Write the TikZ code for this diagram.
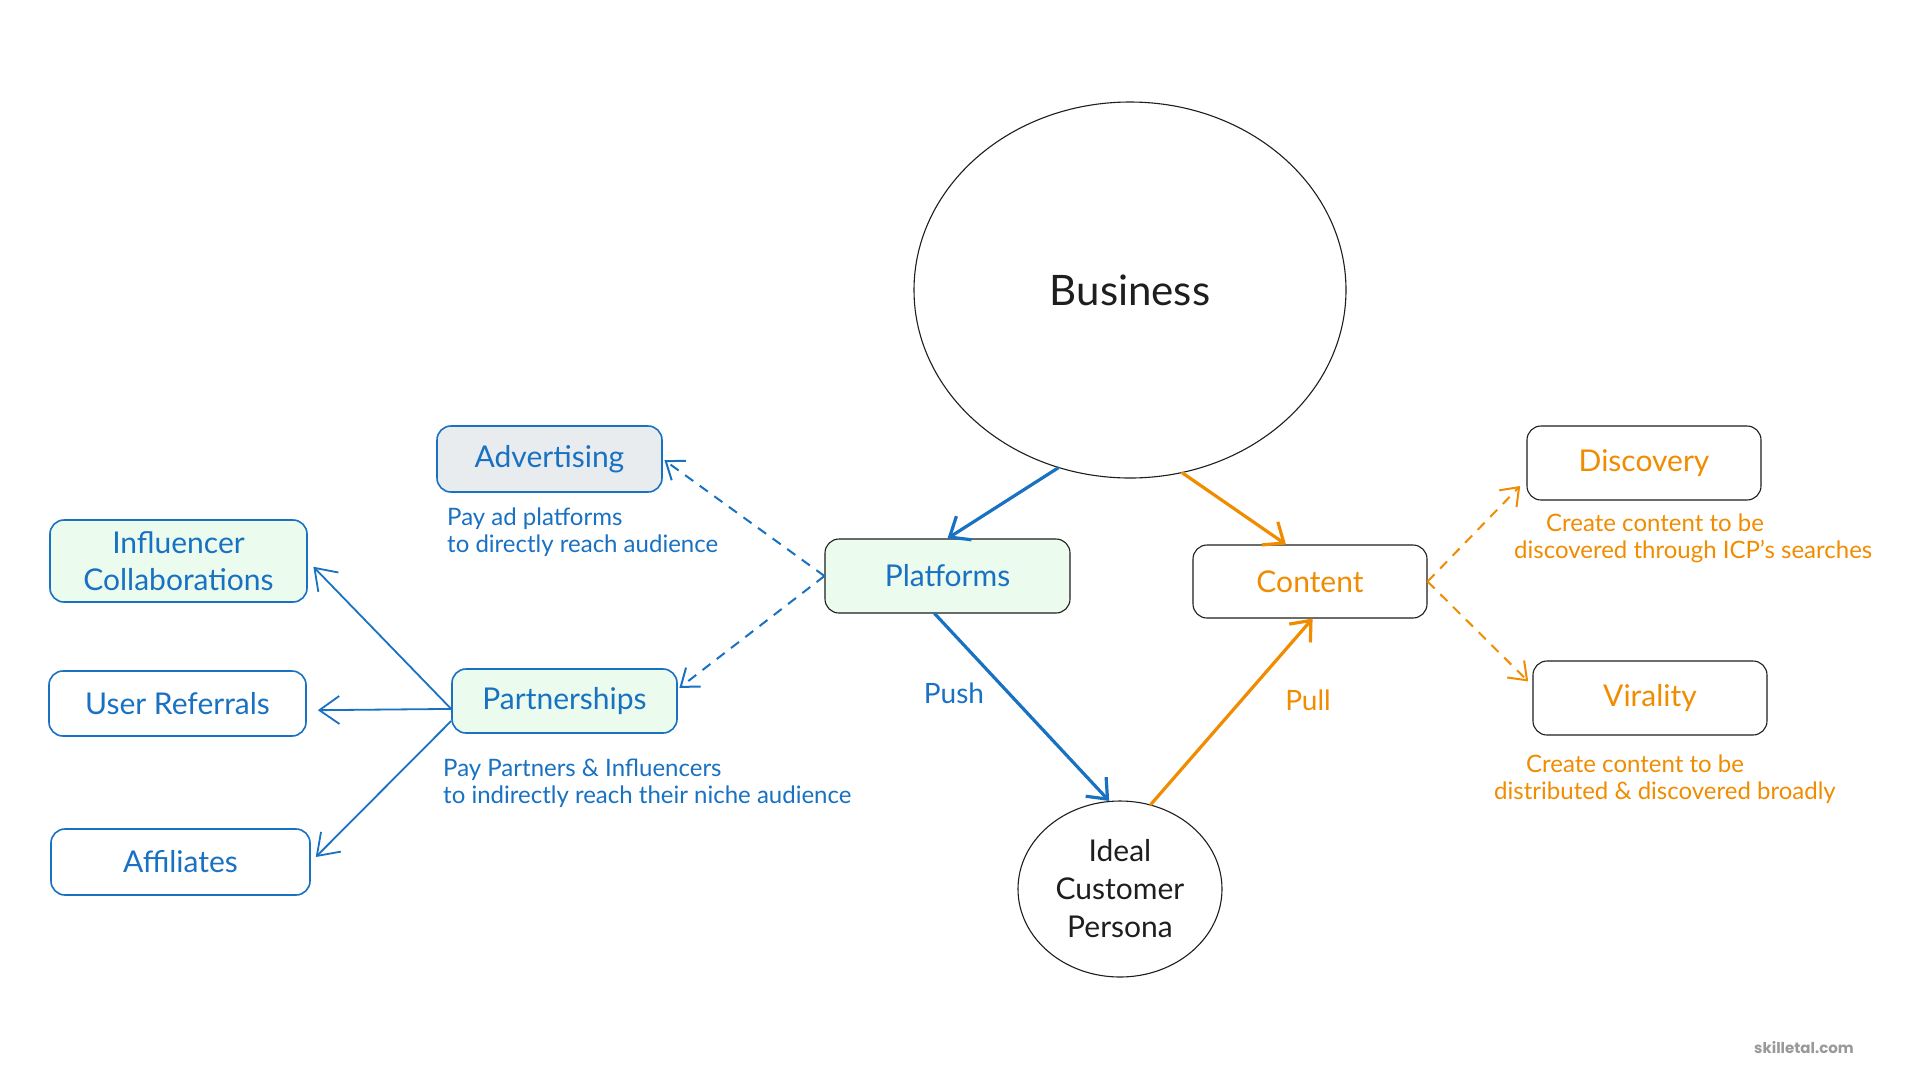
\documentclass[tikz,border=0pt]{standalone}
\usepackage{fontspec}
\setmainfont{Lato}
\newfontfamily\wmfont{Poppins}
\usetikzlibrary{arrows.meta,shapes.geometric}
\definecolor{eblue}{HTML}{1971C2}
\definecolor{eorange}{HTML}{F08C00}
\definecolor{egreen}{HTML}{EBFBEE}
\definecolor{egray}{HTML}{E9ECEF}
\definecolor{eblack}{HTML}{1E1E1E}
\begin{document}
\begin{tikzpicture}[x=1pt,y=-1pt,
  box/.style={draw, rectangle, rounded corners=14pt, inner sep=0pt, align=center,
    font=\fontsize{30}{37}\selectfont},
  bluebox/.style={box, draw=eblue, line width=1.6pt, text=eblue},
  darkbox/.style={box, draw=eblack, line width=1.1pt},
  oval/.style={draw=eblack, ellipse, line width=1.1pt, inner sep=0pt, align=center, text=eblack},
  caption/.style={inner sep=0pt, align=left, font=\fontsize{24}{27}\selectfont},
  thickarrow/.style={line width=3.2pt, line cap=round, -{Straight Barb[length=17pt,width=28pt]}},
  thinarrow/.style={line width=1.8pt, -{Straight Barb[length=20pt,width=28pt]}},
  dasharrow/.style={line width=2pt, dash pattern=on 10pt off 8pt, -{Straight Barb[length=16pt,width=24pt]}},
  edgelabel/.style={inner sep=0pt, font=\fontsize{28}{34}\selectfont}
]
\fill[white] (0,0) rectangle (1920,1080);
\useasboundingbox (0,0) rectangle (1920,1080);

% main ellipses
\node[oval, minimum width=432pt, minimum height=376pt, font=\fontsize{42}{50}\selectfont] (bus) at (1130,290) {Business};
\node[oval, minimum width=204pt, minimum height=176pt, font=\fontsize{30}{38}\selectfont] (icp) at (1120,889) {Ideal\\Customer\\Persona};

% centre boxes
\node[darkbox, fill=egreen, text=eblue, minimum width=245pt, minimum height=74pt] (plat) at (947.5,576) {Platforms};
\node[darkbox, text=eorange, minimum width=234pt, minimum height=73pt] (cont) at (1310,581.5) {Content};

% left side
\node[bluebox, fill=egray, minimum width=225pt, minimum height=66pt] (adv) at (549.5,459) {Advertising};
\node[bluebox, fill=egreen, minimum width=225pt, minimum height=64pt] (part) at (564.5,701) {Partnerships};
\node[bluebox, fill=egreen, minimum width=257pt, minimum height=82pt] (infl) at (178.5,561) {Influencer\\Collaborations};
\node[bluebox, minimum width=257pt, minimum height=65pt] (user) at (177.5,703.5) {User Referrals};
\node[bluebox, minimum width=259pt, minimum height=66pt] (aff) at (180.5,862) {Affiliates};

% right side
\node[darkbox, text=eorange, minimum width=234pt, minimum height=74pt] (disc) at (1644,463) {Discovery};
\node[darkbox, text=eorange, minimum width=234pt, minimum height=74pt] (vir) at (1650,698) {Virality};

% captions
\node[caption, text=eblue, anchor=west] (advcap) at (447,532) {Pay ad platforms\\to directly reach audience};
\node[caption, text=eblue, anchor=west] (partcap) at (443,783) {Pay Partners \& Influencers\\to indirectly reach their niche audience};
\node[caption, text=eorange, anchor=west] (disccap) at (1514,538.5) {\hspace*{32pt}Create content to be\\discovered through ICP's searches};
\node[caption, text=eorange, anchor=west] (vircap) at (1494,779.5) {\hspace*{32pt}Create content to be\\distributed \& discovered broadly};

% connectors
\draw[thickarrow, eblue] (bus.248) -- (plat.north);
\draw[thickarrow, eorange] (bus.286) -- (cont.123);
\draw[thickarrow, eblue] (plat.251) -- (icp.97);
\draw[thickarrow, eorange] (icp.70) -- (cont.274);

\node[edgelabel, text=eblue] (push) at (954,693) {Push};
\node[edgelabel, text=eorange] (pull) at (1308,700) {Pull};

\draw[dasharrow, eblue, shorten >=2pt] (plat.west) -- (adv.east);
\draw[dasharrow, eblue, shorten >=2pt] (plat.west) -- (part.6);

\draw[thinarrow, eblue, shorten >=8pt] (part.184) -- (infl.east);
\draw[thinarrow, eblue, shorten >=11pt] (part.184) -- (user.-3);
\draw[thinarrow, eblue, shorten >=7pt] (part.190) -- (aff.east);

\draw[dasharrow, eorange, shorten >=9pt] (cont.east) -- (disc.188);
\draw[dasharrow, eorange, shorten >=6pt] (cont.east) -- (vir.174);

% watermark
\node[inner sep=0pt, text=black!40, font=\wmfont\bfseries\fontsize{15}{18}\selectfont] (wm) at (1804,1048) {skilletal.com};
\end{tikzpicture}
\end{document}
